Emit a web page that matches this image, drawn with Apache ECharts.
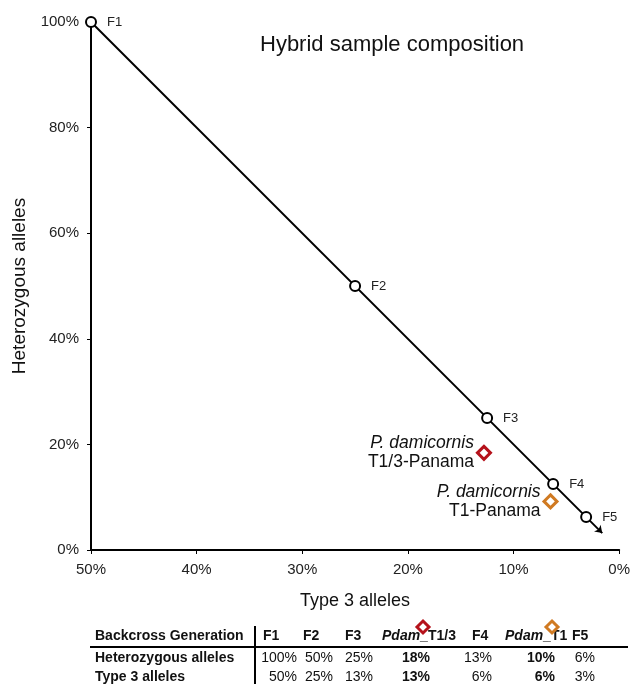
<!DOCTYPE html>
<html><head><meta charset="utf-8">
<script src="https://cdn.jsdelivr.net/npm/echarts@6/dist/echarts.min.js"></script>
<style>html,body{margin:0;padding:0;background:#fff}#c{width:633px;height:684px}</style>
</head><body><div id="c"></div>
<script>
// Backcross generations (x = Type 3 alleles %, y = Heterozygous alleles %)
const genNames = ['F1','F2','F3','F4','F5'];
const genType3 = [50, 25, 12.5, 6.25, 3.125];
const genHetero = [100, 50, 25, 12.5, 6.25];
const arrowEnd = [1.6, 3.2];
// Hybrid samples
const sampleItalic = ['P. damicornis','P. damicornis'];
const sampleNames = ['T1/3-Panama','T1-Panama'];
const sampleType3 = [12.8, 6.5];
const sampleHetero = [18.4, 9.2];
const sampleColors = ['#b5121b','#d07a22'];
// Table
const tableHeader = ['F1','F2','F3','Pdam_T1/3','F4','Pdam_T1','F5'];
const rowHetero = ['100%','50%','25%','18%','13%','10%','6%'];
const rowType3 = ['50%','25%','13%','13%','6%','6%','3%'];
const boldCols = [3,5];

const FONT = 'Liberation Sans, Arial, sans-serif';
const chart = echarts.init(document.getElementById('c'));

const genData = genNames.map((n,i)=>({value:[genType3[i],genHetero[i]], name:n}));
const sampleSeries = sampleNames.map((n,i)=>({
  type:'scatter', symbol:'diamond', symbolSize:13, z:5,
  itemStyle:{color:'#fff', borderColor:sampleColors[i], borderWidth:3, opacity:1},
  data:[{value:[sampleType3[i], sampleHetero[i]]}],
  label:{show:true, position:'left', distance:2, align:'right',
    formatter:'{i|'+sampleItalic[i]+'}\n{n|'+n+'}',
    rich:{i:{fontStyle:'italic', fontSize:17.5, color:'#111', fontFamily:FONT, align:'right', lineHeight:19},
          n:{fontSize:17.5, color:'#111', fontFamily:FONT, align:'right', lineHeight:19}}}
}));

// table graphics
const colRight = [297,333,373,430,492,555,595];
const colHeadX = [263,303,345,382,472,505,572];
const g = [];
const TF = '14px '+FONT;
g.push({type:'text', left:95, top:629, style:{text:'Backcross Generation', font:'bold '+TF, fill:'#111'}});
tableHeader.forEach((h,i)=>{
  if(h.startsWith('Pdam_')){
    g.push({type:'text', left:colHeadX[i], top:629, style:{text:'{a|Pdam}{b|_'+h.slice(5)+'}',
      rich:{a:{font:'bold italic '+TF, fill:'#111'}, b:{font:'bold '+TF, fill:'#111'}}}});
  } else {
    g.push({type:'text', left:colHeadX[i], top:629, style:{text:h, font:'bold '+TF, fill:'#111'}});
  }
});
g.push({type:'text', left:95, top:651, style:{text:'Heterozygous alleles', font:'bold '+TF, fill:'#111'}});
g.push({type:'text', left:95, top:670, style:{text:'Type 3 alleles', font:'bold '+TF, fill:'#111'}});
[rowHetero,rowType3].forEach((row,r)=>{
  row.forEach((v,i)=>{
    const b = boldCols.includes(i);
    g.push({type:'text', x:colRight[i], y:651+r*19, style:{text:v, align:'right', font:(b?'bold ':'')+TF, fill:'#111'}});
  });
});
g.push({type:'line', shape:{x1:90,y1:647,x2:628,y2:647}, style:{stroke:'#000', lineWidth:2}});
g.push({type:'line', shape:{x1:255,y1:626,x2:255,y2:684}, style:{stroke:'#000', lineWidth:2}});
g.push({type:'polygon', shape:{points:[[423,621],[429,627],[423,633],[417,627]]}, style:{fill:'#fff', stroke:sampleColors[0], lineWidth:3}});
g.push({type:'polygon', shape:{points:[[552,621],[558,627],[552,633],[546,627]]}, style:{fill:'#fff', stroke:sampleColors[1], lineWidth:3}});

chart.setOption({
  animation:false,
  title:{text:'Hybrid sample composition', left:255, top:29,
    textStyle:{fontSize:22, fontWeight:'normal', color:'#111', fontFamily:FONT}},
  grid:{left:91, right:13, top:22, bottom:134},
  xAxis:{type:'value', inverse:true, min:0, max:50, interval:10,
    name:'Type 3 alleles', nameLocation:'middle', nameGap:42,
    nameTextStyle:{fontSize:18, color:'#111', fontFamily:FONT},
    axisLine:{onZero:false, lineStyle:{color:'#000', width:2}},
    axisTick:{show:true, length:4, lineStyle:{color:'#000', width:1}},
    axisLabel:{formatter:v=>v+'%', fontSize:15, color:'#222', fontFamily:FONT, margin:12},
    splitLine:{show:false}},
  yAxis:{type:'value', position:'left', min:0, max:100, interval:20,
    name:'Heterozygous alleles', nameLocation:'middle', nameGap:60,
    nameTextStyle:{fontSize:19, color:'#111', fontFamily:FONT},
    axisLine:{show:true, onZero:false, lineStyle:{color:'#000', width:2}},
    axisTick:{show:true, length:4, lineStyle:{color:'#000', width:1}},
    axisLabel:{formatter:v=>v+'%', fontSize:15, color:'#222', fontFamily:FONT, margin:12},
    splitLine:{show:false}},
  series:[
    {type:'lines', coordinateSystem:'cartesian2d', polyline:false, z:2,
      symbol:['none','arrow'], symbolSize:7,
      lineStyle:{color:'#000', width:2, opacity:1},
      data:[{coords:[[genType3[0],genHetero[0]], arrowEnd]}]},
    {type:'scatter', symbol:'circle', symbolSize:10, z:4,
      itemStyle:{color:'#fff', borderColor:'#000', borderWidth:2, opacity:1},
      data:genData,
      label:{show:true, position:'right', distance:10, formatter:'{b}', fontSize:13, color:'#222', fontFamily:FONT}},
    ...sampleSeries
  ],
  graphic:g
});
</script></body></html>
